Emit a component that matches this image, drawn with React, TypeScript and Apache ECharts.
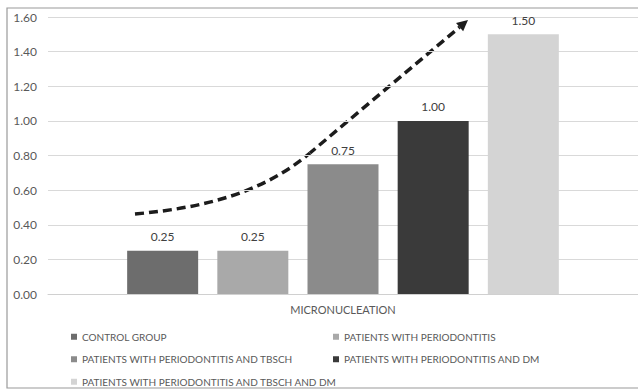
import React, { useEffect, useRef } from "react";
import * as echarts from "echarts";

// Single measured category, one bar per study group
const categories = ["MICRONUCLEATION"];
const groups = [
  "CONTROL GROUP",
  "PATIENTS WITH PERIODONTITIS",
  "PATIENTS WITH PERIODONTITIS AND TBSCH",
  "PATIENTS WITH PERIODONTITIS AND DM",
  "PATIENTS WITH PERIODONTITIS AND TBSCH AND DM",
];
const values = [0.25, 0.25, 0.75, 1.0, 1.5];
const colors = ["#6d6d6d", "#a9a9a9", "#8b8b8b", "#3a3a3a", "#d4d4d4"];

// Y axis range and step
const yMin = 0;
const yMax = 1.6;
const yStep = 0.2;

const FONT = "Lato, 'Open Sans', sans-serif";

// Trend arrow: eased curve, then straight run to the head
const arrowStart: [number, number] = [135, 214];
const arrowCp1: [number, number] = [200, 208];
const arrowCp2: [number, number] = [260, 195];
const arrowJoin: [number, number] = [310, 153];
const arrowTip: [number, number] = [468, 20];

function arrowGraphics() {
  const dx = arrowTip[0] - arrowJoin[0];
  const dy = arrowTip[1] - arrowJoin[1];
  const len = Math.hypot(dx, dy);
  const ux = dx / len;
  const uy = dy / len;
  const headLen = 11;
  const headHalf = 5.5;
  const bx = arrowTip[0] - ux * headLen;
  const by = arrowTip[1] - uy * headLen;
  const nx = -uy;
  const ny = ux;
  const stroke = { stroke: "#1c1c1c", lineWidth: 3.5, lineDash: [9, 5], fill: null };
  return [
    {
      type: "bezierCurve",
      silent: true,
      shape: {
        x1: arrowStart[0], y1: arrowStart[1],
        cpx1: arrowCp1[0], cpy1: arrowCp1[1],
        cpx2: arrowCp2[0], cpy2: arrowCp2[1],
        x2: arrowJoin[0], y2: arrowJoin[1],
      },
      style: stroke,
    },
    {
      type: "line",
      silent: true,
      shape: { x1: arrowJoin[0], y1: arrowJoin[1], x2: bx, y2: by },
      style: { ...stroke, lineDashOffset: 2 },
    },
    {
      type: "polygon",
      silent: true,
      shape: {
        points: [
          [arrowTip[0], arrowTip[1]],
          [bx + nx * headHalf, by + ny * headHalf],
          [bx - nx * headHalf, by - ny * headHalf],
        ],
      },
      style: { fill: "#1c1c1c" },
    },
  ];
}

export default function App() {
  const ref = useRef<HTMLDivElement>(null);

  useEffect(() => {
    if (!ref.current) return;
    const chart = echarts.init(ref.current, null, { renderer: "svg" });
    chart.setOption({
      animation: false,
      backgroundColor: "#ffffff",
      textStyle: { fontFamily: FONT },
      grid: { left: 48, right: 0, top: 17, bottom: 97, containLabel: false },
      legend: {
        left: 71,
        top: 330,
        width: 560,
        orient: "horizontal",
        icon: "rect",
        itemWidth: 6,
        itemHeight: 6,
        itemGap: 9,
        padding: 0,
        data: groups,
        textStyle: {
          fontFamily: FONT,
          fontSize: 10,
          color: "#595959",
          width: 242,
          lineHeight: 13.5,
        },
      },
      xAxis: {
        type: "category",
        data: categories,
        axisTick: { show: false },
        axisLine: { lineStyle: { color: "#d0d0d0", width: 1 } },
        axisLabel: { color: "#595959", fontSize: 11, fontFamily: FONT, margin: 10 },
      },
      yAxis: {
        type: "value",
        min: yMin,
        max: yMax,
        interval: yStep,
        axisLine: { show: false },
        axisTick: { show: false },
        splitLine: { lineStyle: { color: "#d9d9d9", width: 1 } },
        axisLabel: {
          color: "#595959",
          fontSize: 12,
          fontFamily: FONT,
          margin: 11,
          formatter: (v: number) => v.toFixed(2),
        },
      },
      series: groups.map((name, i) => ({
        name,
        type: "bar",
        data: [values[i]],
        barWidth: 71,
        barGap: "27%",
        itemStyle: { color: colors[i] },
        label: {
          show: true,
          position: "top",
          distance: 8,
          color: "#404040",
          fontSize: 12,
          fontFamily: FONT,
          formatter: (p: any) => Number(p.value).toFixed(2),
        },
      })),
      graphic: [
        {
          type: "rect",
          silent: true,
          shape: { x: 7, y: 8, width: 700, height: 380 },
          style: { fill: null, stroke: "#9a9a9a", lineWidth: 1.2 },
          z: -1,
        },
        ...arrowGraphics(),
      ],
    });
    return () => chart.dispose();
  }, []);

  return (
    <div
      ref={ref}
      style={{ position: "fixed", left: 0, top: 0, width: 638, height: 391 }}
    />
  );
}
